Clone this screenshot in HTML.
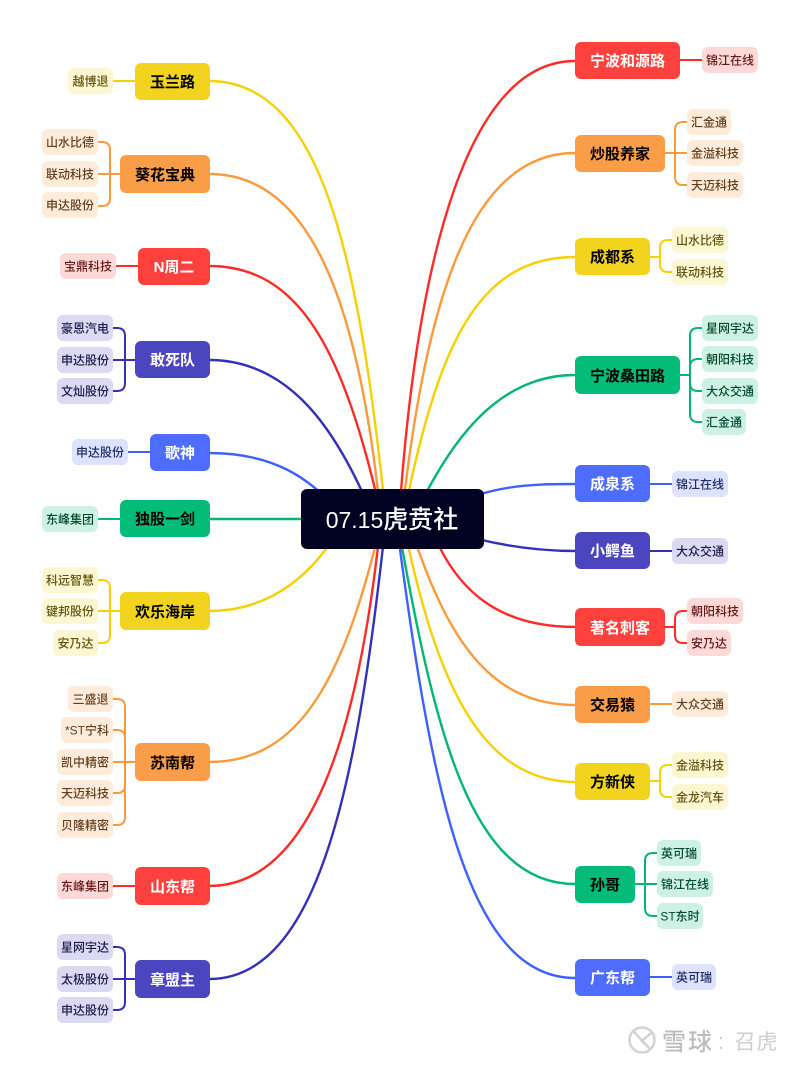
<!DOCTYPE html>
<html><head><meta charset="utf-8">
<style>
html,body{margin:0;padding:0;background:#fff;width:800px;height:1066px;overflow:hidden}
svg{display:block}
text{font-family:"Liberation Sans","Noto Sans CJK SC",sans-serif;text-anchor:middle}
.m{font-size:15px;font-weight:700}
.s{font-size:12px;font-weight:500}
.cur{fill:none;stroke-width:2.4}
.br{fill:none;stroke-width:2}
.y{stroke:#f6d000}.o{stroke:#fb9a3c}.r{stroke:#fd2b26}.i{stroke:#3431b8}.b{stroke:#3e60ff}.g{stroke:#03b673}
.fy{fill:#f2d41e}.fo{fill:#f99d48}.fr{fill:#fe413c}.fi{fill:#4c45c0}.fb{fill:#4e6cfd}.fg{fill:#04bb78}
.ly{fill:#fdf6d2}.lo{fill:#feebda}.lr{fill:#ffd9d8}.li{fill:#dbdaf2}.lb{fill:#dce2ff}.lg{fill:#cdf1e4}
.ty{fill:#61540c}.to{fill:#643f1d}.tr{fill:#661a18}.ti{fill:#1e1b4d}.tb{fill:#1f2b65}.tg{fill:#024b30}
</style></head><body>
<svg width="800" height="1066" viewBox="0 0 800 1066" xmlns="http://www.w3.org/2000/svg">
<!-- main curves -->
<path class="cur y" d="M209,81C320,81 358.6,250 386,519"/>
<path class="cur o" d="M209,174C310,174 359,300 381,519"/>
<path class="cur r" d="M209,266C300,266 344,350 382,519"/>
<path class="cur i" d="M209,360C290,360 337.5,430 374,519"/>
<path class="cur b" d="M209,453C270,453 310,475 345,519"/>
<path class="cur g" d="M209,519H310"/>
<path class="cur y" d="M209,611C270,611 315,575 345,519"/>
<path class="cur o" d="M209,762C300,762 344,680 382,519"/>
<path class="cur r" d="M209,886C310,886 359,735 381,519"/>
<path class="cur i" d="M209,979C320,979 358,780 386,519"/>
<path class="cur r" d="M575,61C470,61 417,250 399,519"/>
<path class="cur o" d="M575,153C470,153 426,300 401.500,519"/>
<path class="cur y" d="M575,257C475,257 437,350 403,519"/>
<path class="cur g" d="M575,375C495,375 448,445 413,519"/>
<path class="cur b" d="M575,484C530,484 490,485 440,510"/>
<path class="cur i" d="M575,551C535,551 490,545 440,528"/>
<path class="cur r" d="M575,627C500,627 455,592 430,525"/>
<path class="cur o" d="M575,705C490,705 446,640 408,519"/>
<path class="cur y" d="M575,782C480,782 435,680 402.500,519"/>
<path class="cur g" d="M575,884C470,884 434,730 397,519"/>
<path class="cur b" d="M575,978C465,978 430,780 396,519"/>
<!-- branch connectors -->
<path class="br y" d="M113,81H135"/>
<path class="br o" d="M98,142H102Q110,142 110,150V198Q110,206 102,206H98M98,174H120"/>
<path class="br r" d="M116,266H138"/>
<path class="br i" d="M113,328H117Q125,328 125,336V383Q125,391 117,391H113M113,360H135"/>
<path class="br b" d="M128,452H150"/>
<path class="br g" d="M98,519H120"/>
<path class="br y" d="M98,580H102Q110,580 110,588V635Q110,643 102,643H98M98,611H120"/>
<path class="br o" d="M113,699H117Q125,699 125,707V817Q125,825 117,825H113M113,730H117Q125,730 125,738M113,762H135M113,793H117Q125,793 125,785"/>
<path class="br r" d="M113,886H135"/>
<path class="br i" d="M113,947H117Q125,947 125,955V1002Q125,1010 117,1010H113M113,979H135"/>
<path class="br r" d="M679,60H702"/>
<path class="br o" d="M664,153H687M687,122H683Q675,122 675,130V177Q675,185 683,185H687"/>
<path class="br y" d="M649,257H660M672,240H668Q660,240 660,248V264Q660,272 668,272H672"/>
<path class="br g" d="M679,375H690M702,328H698Q690,328 690,336V414Q690,422 698,422H702M702,359H698Q690,359 690,367M702,391H698Q690,391 690,383"/>
<path class="br b" d="M649,484H672"/>
<path class="br i" d="M649,551H672"/>
<path class="br r" d="M664,627H675M687,611H683Q675,611 675,619V635Q675,643 683,643H687"/>
<path class="br o" d="M649,704H672"/>
<path class="br y" d="M649,781H660M672,765H668Q660,765 660,773V789Q660,797 668,797H672"/>
<path class="br g" d="M634,884H645M657,853H653Q645,853 645,861V908Q645,916 653,916H657M645,884H657"/>
<path class="br b" d="M649,977H672"/>
<!-- center -->
<rect x="301" y="489" width="183" height="60" rx="6" fill="#020322"/>
<text x="392" y="528" font-size="25" font-weight="500" fill="#fff"><tspan font-size="23">07.15</tspan>虎贲社</text>
<!-- left main nodes -->
<rect class="fy" x="135" y="63" width="75" height="37" rx="6"/><text class="m" x="172.500" y="87" fill="#000">玉兰路</text>
<rect class="fo" x="120" y="155" width="90" height="38" rx="6"/><text class="m" x="165" y="180" fill="#000">葵花宝典</text>
<rect class="fr" x="138" y="248" width="72" height="37" rx="6"/><text class="m" x="174" y="272" fill="#fff">N周二</text>
<rect class="fi" x="135" y="341" width="75" height="37" rx="6"/><text class="m" x="172.500" y="365" fill="#fff">敢死队</text>
<rect class="fb" x="150" y="434" width="60" height="37" rx="6"/><text class="m" x="180" y="458" fill="#fff">歌神</text>
<rect class="fg" x="120" y="500" width="90" height="37" rx="6"/><text class="m" x="165" y="524" fill="#000">独股一剑</text>
<rect class="fy" x="120" y="592" width="90" height="38" rx="6"/><text class="m" x="165" y="617" fill="#000">欢乐海岸</text>
<rect class="fo" x="135" y="743" width="75" height="38" rx="6"/><text class="m" x="172.500" y="768" fill="#000">苏南帮</text>
<rect class="fr" x="135" y="867" width="75" height="38" rx="6"/><text class="m" x="172.500" y="892" fill="#fff">山东帮</text>
<rect class="fi" x="135" y="960" width="75" height="38" rx="6"/><text class="m" x="172.500" y="985" fill="#fff">章盟主</text>
<!-- right main nodes -->
<rect class="fr" x="575" y="42" width="105" height="37" rx="6"/><text class="m" x="627.500" y="66" fill="#fff">宁波和源路</text>
<rect class="fo" x="575" y="135" width="90" height="37" rx="6"/><text class="m" x="620" y="159" fill="#000">炒股养家</text>
<rect class="fy" x="575" y="238" width="75" height="37" rx="6"/><text class="m" x="612.500" y="262" fill="#000">成都系</text>
<rect class="fg" x="575" y="356" width="105" height="38" rx="6"/><text class="m" x="627.500" y="381" fill="#000">宁波桑田路</text>
<rect class="fb" x="575" y="465" width="75" height="37" rx="6"/><text class="m" x="612.500" y="489" fill="#fff">成泉系</text>
<rect class="fi" x="575" y="532" width="75" height="37" rx="6"/><text class="m" x="612.500" y="556" fill="#fff">小鳄鱼</text>
<rect class="fr" x="575" y="608" width="90" height="38" rx="6"/><text class="m" x="620" y="633" fill="#fff">著名刺客</text>
<rect class="fo" x="575" y="686" width="75" height="37" rx="6"/><text class="m" x="612.500" y="710" fill="#000">交易猿</text>
<rect class="fy" x="575" y="763" width="75" height="37" rx="6"/><text class="m" x="612.500" y="787" fill="#000">方新侠</text>
<rect class="fg" x="575" y="866" width="60" height="37" rx="6"/><text class="m" x="605" y="890" fill="#000">孙哥</text>
<rect class="fb" x="575" y="959" width="75" height="37" rx="6"/><text class="m" x="612.500" y="983" fill="#fff">广东帮</text>
<!-- left sub nodes -->
<rect class="ly" x="68" y="68" width="45" height="26" rx="6"/><text class="s ty" x="90.500" y="85.500">越博退</text>
<rect class="lo" x="42" y="129" width="56" height="26" rx="6"/><text class="s to" x="70" y="146.500">山水比德</text>
<rect class="lo" x="42" y="161" width="56" height="26" rx="6"/><text class="s to" x="70" y="178.500">联动科技</text>
<rect class="lo" x="42" y="192" width="56" height="26" rx="6"/><text class="s to" x="70" y="209.500">申达股份</text>
<rect class="lr" x="60" y="253" width="56" height="26" rx="6"/><text class="s tr" x="88" y="270.500">宝鼎科技</text>
<rect class="li" x="57" y="315" width="56" height="26" rx="6"/><text class="s ti" x="85" y="332.500">豪恩汽电</text>
<rect class="li" x="57" y="347" width="56" height="26" rx="6"/><text class="s ti" x="85" y="364.500">申达股份</text>
<rect class="li" x="57" y="378" width="56" height="26" rx="6"/><text class="s ti" x="85" y="395.500">文灿股份</text>
<rect class="lb" x="72" y="439" width="56" height="26" rx="6"/><text class="s tb" x="100" y="456.500">申达股份</text>
<rect class="lg" x="42" y="506" width="56" height="26" rx="6"/><text class="s tg" x="70" y="523.500">东峰集团</text>
<rect class="ly" x="42" y="567" width="56" height="26" rx="6"/><text class="s ty" x="70" y="584.500">科远智慧</text>
<rect class="ly" x="42" y="598" width="56" height="26" rx="6"/><text class="s ty" x="70" y="615.500">键邦股份</text>
<rect class="ly" x="53" y="630" width="45" height="26" rx="6"/><text class="s ty" x="75.500" y="647.500">安乃达</text>
<rect class="lo" x="68" y="686" width="45" height="26" rx="6"/><text class="s to" x="90.500" y="703.500">三盛退</text>
<rect class="lo" x="61" y="717" width="52" height="26" rx="6"/><text class="s to" x="87" y="734.500">*ST宁科</text>
<rect class="lo" x="57" y="749" width="56" height="26" rx="6"/><text class="s to" x="85" y="766.500">凯中精密</text>
<rect class="lo" x="57" y="780" width="56" height="26" rx="6"/><text class="s to" x="85" y="797.500">天迈科技</text>
<rect class="lo" x="57" y="812" width="56" height="26" rx="6"/><text class="s to" x="85" y="829.500">贝隆精密</text>
<rect class="lr" x="57" y="873" width="56" height="26" rx="6"/><text class="s tr" x="85" y="890.500">东峰集团</text>
<rect class="li" x="57" y="934" width="56" height="26" rx="6"/><text class="s ti" x="85" y="951.500">星网宇达</text>
<rect class="li" x="57" y="966" width="56" height="26" rx="6"/><text class="s ti" x="85" y="983.500">太极股份</text>
<rect class="li" x="57" y="997" width="56" height="26" rx="6"/><text class="s ti" x="85" y="1014.500">申达股份</text>
<!-- right sub nodes -->
<rect class="lr" x="702" y="47" width="56" height="26" rx="6"/><text class="s tr" x="730" y="64.500">锦江在线</text>
<rect class="lo" x="687" y="109" width="44" height="26" rx="6"/><text class="s to" x="709" y="126.500">汇金通</text>
<rect class="lo" x="687" y="140" width="56" height="26" rx="6"/><text class="s to" x="715" y="157.500">金溢科技</text>
<rect class="lo" x="687" y="172" width="56" height="26" rx="6"/><text class="s to" x="715" y="189.500">天迈科技</text>
<rect class="ly" x="672" y="227" width="56" height="26" rx="6"/><text class="s ty" x="700" y="244.500">山水比德</text>
<rect class="ly" x="672" y="259" width="56" height="26" rx="6"/><text class="s ty" x="700" y="276.500">联动科技</text>
<rect class="lg" x="702" y="315" width="56" height="26" rx="6"/><text class="s tg" x="730" y="332.500">星网宇达</text>
<rect class="lg" x="702" y="346" width="56" height="26" rx="6"/><text class="s tg" x="730" y="363.500">朝阳科技</text>
<rect class="lg" x="702" y="378" width="56" height="26" rx="6"/><text class="s tg" x="730" y="395.500">大众交通</text>
<rect class="lg" x="702" y="409" width="44" height="26" rx="6"/><text class="s tg" x="724" y="426.500">汇金通</text>
<rect class="lb" x="672" y="471" width="56" height="26" rx="6"/><text class="s tb" x="700" y="488.500">锦江在线</text>
<rect class="li" x="672" y="538" width="56" height="26" rx="6"/><text class="s ti" x="700" y="555.500">大众交通</text>
<rect class="lr" x="687" y="598" width="56" height="26" rx="6"/><text class="s tr" x="715" y="615.500">朝阳科技</text>
<rect class="lr" x="687" y="630" width="44" height="26" rx="6"/><text class="s tr" x="709" y="647.500">安乃达</text>
<rect class="lo" x="672" y="691" width="56" height="26" rx="6"/><text class="s to" x="700" y="708.500">大众交通</text>
<rect class="ly" x="672" y="752" width="56" height="26" rx="6"/><text class="s ty" x="700" y="769.500">金溢科技</text>
<rect class="ly" x="672" y="784" width="56" height="26" rx="6"/><text class="s ty" x="700" y="801.500">金龙汽车</text>
<rect class="lg" x="657" y="840" width="44" height="26" rx="6"/><text class="s tg" x="679" y="857.500">英可瑞</text>
<rect class="lg" x="657" y="871" width="56" height="26" rx="6"/><text class="s tg" x="685" y="888.500">锦江在线</text>
<rect class="lg" x="657" y="903" width="46" height="26" rx="6"/><text class="s tg" x="680" y="920.500">ST东时</text>
<rect class="lb" x="672" y="964" width="44" height="26" rx="6"/><text class="s tb" x="694" y="981.500">英可瑞</text>
<!-- watermark -->
<circle cx="642" cy="1040" r="12.500" fill="none" stroke="#d2d2d2" stroke-width="2.500"/>
<path d="M634,1032L650,1049M651,1033L642,1041L649,1048" fill="none" stroke="#d2d2d2" stroke-width="2.500"/>
<text x="674" y="1050" font-size="24" font-weight="500" fill="#bdbdbd">雪</text>
<text x="700" y="1050" font-size="24" font-weight="500" fill="#bdbdbd">球</text>
<text x="721" y="1049" font-size="22" fill="#cfcfcf">:</text>
<text x="745" y="1049" font-size="21" fill="#cdcdcd">召</text>
<text x="767" y="1049" font-size="21" fill="#cdcdcd">虎</text>
</svg>
</body></html>
